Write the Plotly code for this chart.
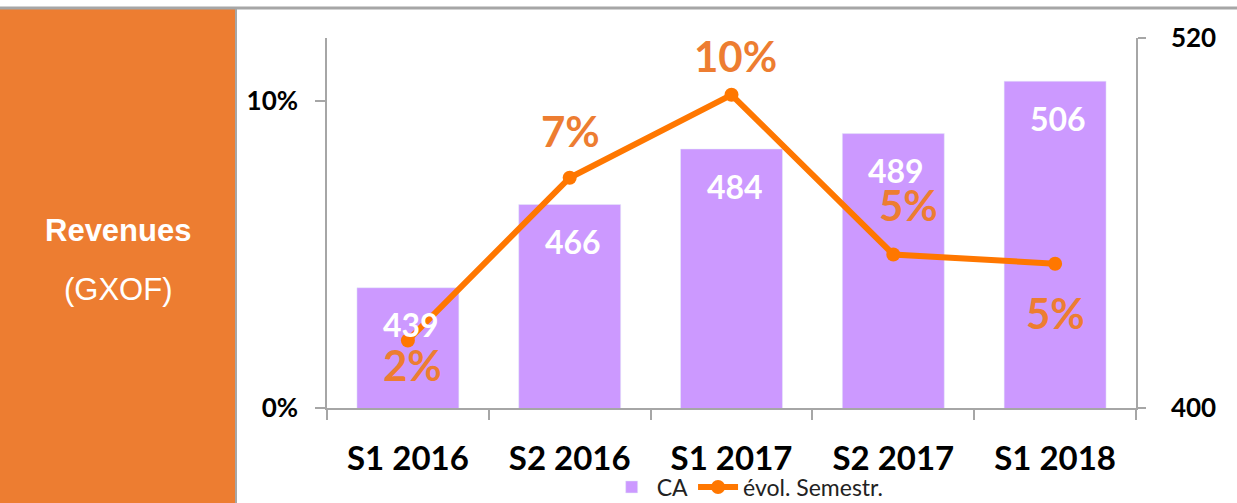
import plotly.graph_objects as go

categories = ["S1 2016", "S2 2016", "S1 2017", "S2 2017", "S1 2018"]
ca_values = [439, 466, 484, 489, 506]
evol_values = [0.022, 0.075, 0.102, 0.050, 0.047]
evol_labels = ["2%", "7%", "10%", "5%", "5%"]
left_tickvals = [0, 0.1]
left_ticktext = ["0%", "10%"]
right_tickvals = [400, 520]

# label offsets (pixels) relative to points
evol_xshift = [5, 1, 4, 15, 0]
evol_yshift = [-25, 47, 39, 49, -49]

BAR = "#CC99FF"
LINE = "#FF7700"
LABEL_OR = "#ED7D31"
GRAY = "#A6A6A6"
W, H = 1237, 503
ML, MR, MT, MB = 327, 101, 38, 95
PW, PH = W - ML - MR, H - MT - MB

def px(xp):
    return (xp - ML) / PW

def py(yp):
    return (H - MB - yp) / PH

fig = go.Figure()
fig.add_trace(go.Bar(
    x=categories, y=ca_values, name="CA", marker_color=BAR,
    yaxis="y", hoverinfo="skip",
))
fig.add_trace(go.Scatter(
    x=categories, y=evol_values, name="évol. Semestr.", yaxis="y2",
    mode="lines+markers", line=dict(color=LINE, width=6),
    marker=dict(color=LINE, size=14), hoverinfo="skip",
))

annotations = []
for c, v in zip(categories, ca_values):
    annotations.append(dict(
        x=c, y=v, xref="x", yref="y", text=str(v), showarrow=False,
        yanchor="middle", yshift=-37, xshift=3,
        font=dict(family="Lato", size=32, color="white", weight="bold"),
    ))
for c, v, t, xs, ys in zip(categories, evol_values, evol_labels, evol_xshift, evol_yshift):
    annotations.append(dict(
        x=c, y=v, xref="x", yref="y2", text=t, showarrow=False,
        yanchor="middle", xshift=xs, yshift=ys,
        font=dict(family="Lato", size=42, color=LABEL_OR, weight="bold"),
    ))
annotations.append(dict(
    x=px(118), y=py(230), xref="paper", yref="paper", text="<b>Revenues</b>",
    showarrow=False, xanchor="center", yanchor="middle",
    font=dict(family="Liberation Sans", size=31, color="white"),
))
annotations.append(dict(
    x=px(118), y=py(289), xref="paper", yref="paper", text="(GXOF)",
    showarrow=False, xanchor="center", yanchor="middle",
    font=dict(family="Liberation Sans", size=31, color="white"),
))

shapes = [
    dict(type="rect", xref="paper", yref="paper", x0=px(0), x1=px(236),
         y0=py(504), y1=py(8), fillcolor="#ED7D31", line=dict(width=0), layer="below"),
    dict(type="line", xref="paper", yref="paper", x0=px(236), x1=px(236),
         y0=py(504), y1=py(8), line=dict(color=GRAY, width=2)),
    dict(type="line", xref="paper", yref="paper", x0=px(0), x1=px(1237),
         y0=py(8), y1=py(8), line=dict(color=GRAY, width=3)),
]

fig.update_layout(
    width=W, height=H, autosize=False,
    margin=dict(l=ML, r=MR, t=MT, b=MB, pad=0, autoexpand=False),
    paper_bgcolor="white", plot_bgcolor="white",
    bargap=0.37, showlegend=True,
    legend=dict(orientation="h", x=0.52, xanchor="center",
                y=py(487), yanchor="middle",
                font=dict(family="Lato", size=23, color="#222222"),
                bgcolor="rgba(0,0,0,0)", itemwidth=40, tracegroupgap=0),
    xaxis=dict(
        type="category", showline=True, linecolor=GRAY, linewidth=1.5, automargin=False,
        ticks="outside", tickson="boundaries", ticklen=10, tickcolor=GRAY, tickwidth=1.5,
        showgrid=False, ticklabelstandoff=21,
        tickfont=dict(family="Lato", size=33, color="black", weight="bold"),
    ),
    yaxis=dict(
        side="right", range=[400, 520], tickvals=right_tickvals, automargin=False,
        ticktext=[str(v) for v in right_tickvals],
        showline=True, linecolor=GRAY, linewidth=1.5,
        ticks="outside", ticklen=8, tickcolor=GRAY, tickwidth=1.5,
        showgrid=False, zeroline=False, ticklabelstandoff=20,
        tickfont=dict(family="Lato", size=26, color="black", weight="bold"),
    ),
    yaxis2=dict(
        side="left", overlaying="y", range=[0, 0.1205], tickvals=left_tickvals,
        ticktext=left_ticktext, automargin=False,
        showline=True, linecolor=GRAY, linewidth=1.5,
        ticks="outside", ticklen=10, tickcolor=GRAY, tickwidth=1.5,
        showgrid=False, zeroline=False, ticklabelstandoff=12,
        tickfont=dict(family="Lato", size=26, color="black", weight="bold"),
    ),
    annotations=annotations, shapes=shapes,
)

fig.write_html("out.html", config={"displayModeBar": False},
               post_script="document.body.style.margin='0';")
